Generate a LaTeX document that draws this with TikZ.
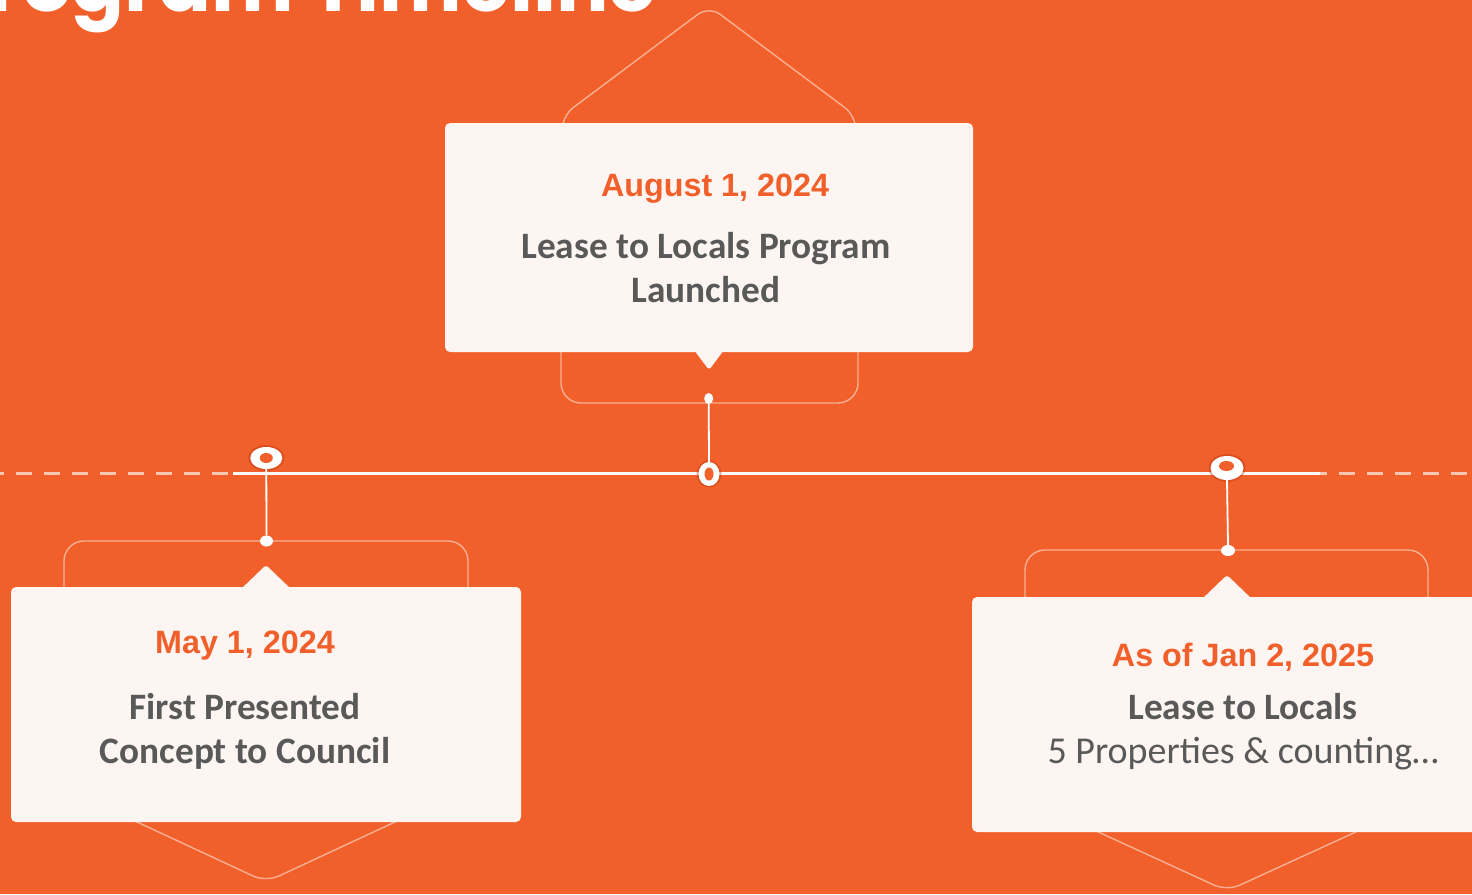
\documentclass[tikz,border=0pt]{standalone}
\usepackage{fontspec}
\setmainfont{Carlito}
\newfontfamily\datefont{Liberation Sans}
\newfontfamily\titlefont{Poppins}
\usetikzlibrary{shapes.geometric}
\definecolor{bgorange}{RGB}{241,96,42}
\definecolor{cardfill}{RGB}{253,245,242}
\definecolor{datecol}{RGB}{241,96,42}
\definecolor{bodygray}{RGB}{89,89,89}
\definecolor{haze}{RGB}{190,60,20}
\tikzset{
  outl/.style={draw=white, draw opacity=0.5, line width=1.4pt},
  card/.style={rectangle, fill=cardfill, rounded corners=5pt, inner sep=0pt},
  datetxt/.style={font=\datefont\bfseries\fontsize{32.3}{38}\selectfont, text=datecol, anchor=base},
  headtxt/.style={font=\bfseries\fontsize{37.3}{44}\selectfont, text=bodygray, anchor=base},
  bodytxt/.style={font=\fontsize{38}{44}\selectfont, text=bodygray, anchor=base},
  stem/.style={draw=white, line width=1.8pt},
  dotmark/.style={ellipse, fill=white, inner sep=0pt},
  ringmark/.style={ellipse, fill=white, inner sep=0pt},
  ringhole/.style={ellipse, fill=bgorange, inner sep=0pt},
  ringhalo/.style={ellipse, fill=haze, fill opacity=0.45, inner sep=0pt},
}
\begin{document}
\begin{tikzpicture}[x=1pt,y=-1pt]
\useasboundingbox (0,0) rectangle (1472,894);
\fill[bgorange] (0,0) rectangle (1472,894);

\begin{scope}
\clip (0,0) rectangle (1472,894);
% heading, cut by the top edge
\node[font=\titlefont\bfseries\fontsize{78}{90}\selectfont, text=white, anchor=base east, inner sep=0pt] (title) at (657,12) {Program Timeline};

% outline frames behind the cards
\draw[outl, rounded corners=14pt] (562,135) -- (562,116) -- (709,6) -- (856,116) -- (856,135);
\draw[outl, rounded corners=20pt] (561,345) -- (561,403) -- (858,403) -- (858,345);
\draw[outl, rounded corners=20pt] (64,600) -- (64,541) -- (468,541) -- (468,600);
\draw[outl, rounded corners=14pt] (122,815) -- (266,882) -- (410,815);
\draw[outl, rounded corners=20pt] (1025,610) -- (1025,550) -- (1428,550) -- (1428,610);
\draw[outl, rounded corners=14pt] (1083,825) -- (1227,891) -- (1371,825);

% timeline
\coordinate (tlA) at (0,473.5);
\coordinate (tlB) at (233,473.5);
\coordinate (tlC) at (1320,473.5);
\coordinate (tlD) at (1472,473.5);
\draw[white, line width=3.6pt] (tlB) -- (tlC);
\draw[white, opacity=0.65, line width=3.6pt, dash pattern=on 16pt off 12pt, dash phase=12pt] (tlA) -- (tlB);
\draw[white, opacity=0.65, line width=3.6pt, dash pattern=on 16pt off 12pt, dash phase=-19pt] (tlC) -- (tlD);

% cards
\node[card, minimum width=528pt, minimum height=229pt] (cardB) at (709,237.5) {};
\fill[cardfill, rounded corners=3pt] (694,350) -- (709,370) -- (724,350) -- cycle;
\node[card, minimum width=510pt, minimum height=235pt] (cardA) at (266,704.5) {};
\fill[cardfill, rounded corners=3pt] (240,590) -- (266,565) -- (292,590) -- cycle;
\node[card, minimum width=540pt, minimum height=235pt] (cardC) at (1242,714.5) {};
\fill[cardfill, rounded corners=3pt] (1201,600) -- (1227,575) -- (1253,600) -- cycle;

% card texts
\node[datetxt] (dB) at (715,196) {August 1, 2024};
\node[headtxt] (hB1) at (706,258) {Lease to Locals Program};
\node[headtxt] (hB2) at (706,302) {Launched};

\node[datetxt] (dA) at (245,653) {May 1, 2024};
\node[headtxt] (hA1) at (245,719) {First Presented};
\node[headtxt] (hA2) at (245,763) {Concept to Council};

\node[datetxt] (dC) at (1243,666) {As of Jan 2, 2025};
\node[headtxt] (hC1) at (1243,719) {Lease to Locals};
\node[bodytxt] (hC2) at (1243,763) {5 Properties \& counting\ldots};

% markers on the timeline
\node[ringhalo, minimum width=36pt, minimum height=26pt] at (266.3,458) {};
\node[ringmark, minimum width=32pt, minimum height=22pt] (mA) at (266.3,458) {};
\node[ringhole, minimum width=13pt, minimum height=10pt] at (266.3,458) {};

\node[ringhalo, minimum width=25pt, minimum height=27pt] at (709,474) {};
\node[ringmark, minimum width=21pt, minimum height=24pt] (mB) at (709,474) {};
\node[ringhole, minimum width=9pt, minimum height=13pt] at (709,474) {};

\node[ringhalo, minimum width=37pt, minimum height=28pt] at (1227,468) {};
\node[ringmark, minimum width=33pt, minimum height=24pt] (mC) at (1227,468) {};
\node[ringhole, minimum width=15pt, minimum height=10pt] at (1226.5,466) {};

% small end dots and stems
\node[dotmark, minimum width=13pt, minimum height=11pt] (pA) at (266.5,541) {};
\node[dotmark, minimum width=9pt, minimum height=11pt] (pB) at (708.7,398.5) {};
\node[dotmark, minimum width=14pt, minimum height=11pt] (pC) at (1228,550.5) {};
\draw[stem] (mA.south) -- (pA.north);
\draw[stem] (pB.south) -- (mB.north);
\draw[stem] (mC.south) -- (pC.north);
\end{scope}
\end{tikzpicture}
\end{document}
